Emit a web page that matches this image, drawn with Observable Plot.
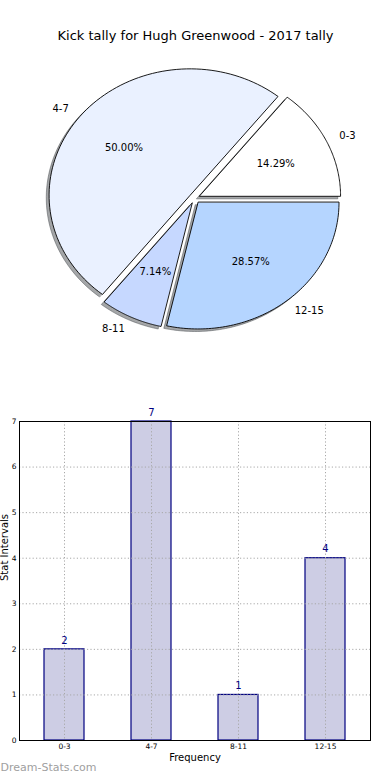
<!DOCTYPE html>
<html>
<head>
<meta charset="utf-8">
<script src="https://cdn.jsdelivr.net/npm/d3@7"></script>
<script src="https://cdn.jsdelivr.net/npm/@observablehq/plot@0.6"></script>
<style>
  html, body { margin: 0; padding: 0; background: #fff; }
  #chart { width: 390px; }
  #chart svg { display: block; }
</style>
</head>
<body>
<div id="chart"></div>
<script>
// ---- data ----
const title = "Kick tally for Hugh Greenwood - 2017 tally";
const categories = ["0-3", "4-7", "8-11", "12-15"];
const counts = [2, 7, 1, 4];
const yTicks = [0, 1, 2, 3, 4, 5, 6, 7];
const xLabel = "Frequency";
const yLabel = "Stat Intervals";
const watermark = "Dream-Stats.com";
const pieColors = ["#ffffff", "#eaf1ff", "#c6d8ff", "#b5d5ff"];

// ---- pie geometry (matplotlib-like: CCW from east, explode, shadow) ----
const explode = 0.04, labelDist = 1.1, pctDist = 0.6, steps = 90;
const total = d3.sum(counts);
let acc = 0;
const slices = categories.map((cat, i) => {
  const a0 = 2 * Math.PI * acc / total;
  acc += counts[i];
  const a1 = 2 * Math.PI * acc / total;
  const am = (a0 + a1) / 2;
  const ox = explode * Math.cos(am), oy = explode * Math.sin(am);
  return {
    cat, a0, a1, am, ox, oy,
    lx: ox + labelDist * Math.cos(am), ly: oy + labelDist * Math.sin(am),
    px: ox + pctDist * Math.cos(am), py: oy + pctDist * Math.sin(am),
    pct: (100 * counts[i] / total).toFixed(2) + "%"
  };
});
function slicePoints(dx, dy) {
  const pts = [];
  for (const s of slices) {
    pts.push({cat: s.cat, x: s.ox + dx, y: s.oy + dy});
    for (let k = 0; k <= steps; k++) {
      const a = s.a0 + (s.a1 - s.a0) * k / steps;
      pts.push({cat: s.cat, x: s.ox + dx + Math.cos(a), y: s.oy + dy + Math.sin(a)});
    }
  }
  return pts;
}
const piePts = slicePoints(0, 0);
const shadowPts = slicePoints(-0.02, -0.02);

const font = "DejaVu Sans, Verdana, sans-serif";
const cx = 194, cy = 198, rx = 141, ry = 126.5, pieH = 400;

const pie = Plot.plot({
  width: 390, height: pieH,
  margin: 0,
  style: {fontFamily: font, fontSize: "10px", background: "#fff", color: "#000"},
  x: {domain: [-cx / rx, (390 - cx) / rx], axis: null},
  y: {domain: [-(pieH - cy) / ry, cy / ry], axis: null},
  color: {type: "ordinal", domain: categories, range: pieColors},
  marks: [
    Plot.line(shadowPts, {x: "x", y: "y", z: "cat", curve: "linear-closed",
      fill: "#4a4d52", fillOpacity: 0.5, stroke: "#4a4d52", strokeOpacity: 0.5, strokeWidth: 1}),
    Plot.line(piePts, {x: "x", y: "y", z: "cat", curve: "linear-closed",
      fill: "cat", stroke: "#000", strokeWidth: 0.9}),
    Plot.text(slices, {filter: d => d.lx > 0, x: "lx", y: "ly", text: "cat", textAnchor: "start", fontSize: 10}),
    Plot.text(slices, {filter: d => d.lx <= 0, x: "lx", y: "ly", text: "cat", textAnchor: "end", fontSize: 10}),
    Plot.text(slices, {x: "px", y: "py", text: "pct", fontSize: 10}),
    Plot.text([title], {frameAnchor: "top", dy: 30, fontSize: 13, fill: "#000"})
  ]
});

// ---- bar chart ----
const table = categories.map((cat, i) => ({cat, count: counts[i]}));
const bars = Plot.plot({
  width: 390, height: 380,
  marginTop: 21, marginBottom: 40, marginLeft: 19, marginRight: 20,
  style: {fontFamily: font, fontSize: "7.5px", background: "#fff", color: "#000"},
  x: {type: "band", domain: categories, paddingInner: 0.545, paddingOuter: 0.2727,
      label: null, tickSize: 0, tickPadding: 3},
  y: {domain: [0, 7], ticks: yTicks, tickFormat: d3.format("d"), tickSize: 0, tickPadding: 3, label: null},
  marks: [
    Plot.barY(table, {x: "cat", y: "count", fill: "#cdcde4", stroke: "#000080", strokeWidth: 1.2}),
    Plot.ruleY(yTicks.slice(1, -1), {stroke: "#a8a8a8", strokeDasharray: "1.2,2.2", strokeWidth: 1}),
    Plot.ruleX(categories, {x: d => d, stroke: "#a8a8a8", strokeDasharray: "1.2,2.2", strokeWidth: 1}),
    Plot.frame({stroke: "#000", strokeWidth: 1}),
    Plot.text(table, {x: "cat", y: "count", text: d => String(d.count), dy: -9, fill: "#000080", fontSize: 10}),
    Plot.text([yLabel], {frameAnchor: "left", rotate: -90, dx: -15, fontSize: 10, fill: "#000"}),
    Plot.text([xLabel], {frameAnchor: "bottom", dy: 20, fontSize: 10, fill: "#000"}),
    Plot.text([watermark], {frameAnchor: "bottom-left", dx: -19, dy: 30, textAnchor: "start", fill: "#a0a0a0", fontSize: 11})
  ]
});

const root = document.getElementById("chart");
root.appendChild(pie);
root.appendChild(bars);
</script>
</body>
</html>
